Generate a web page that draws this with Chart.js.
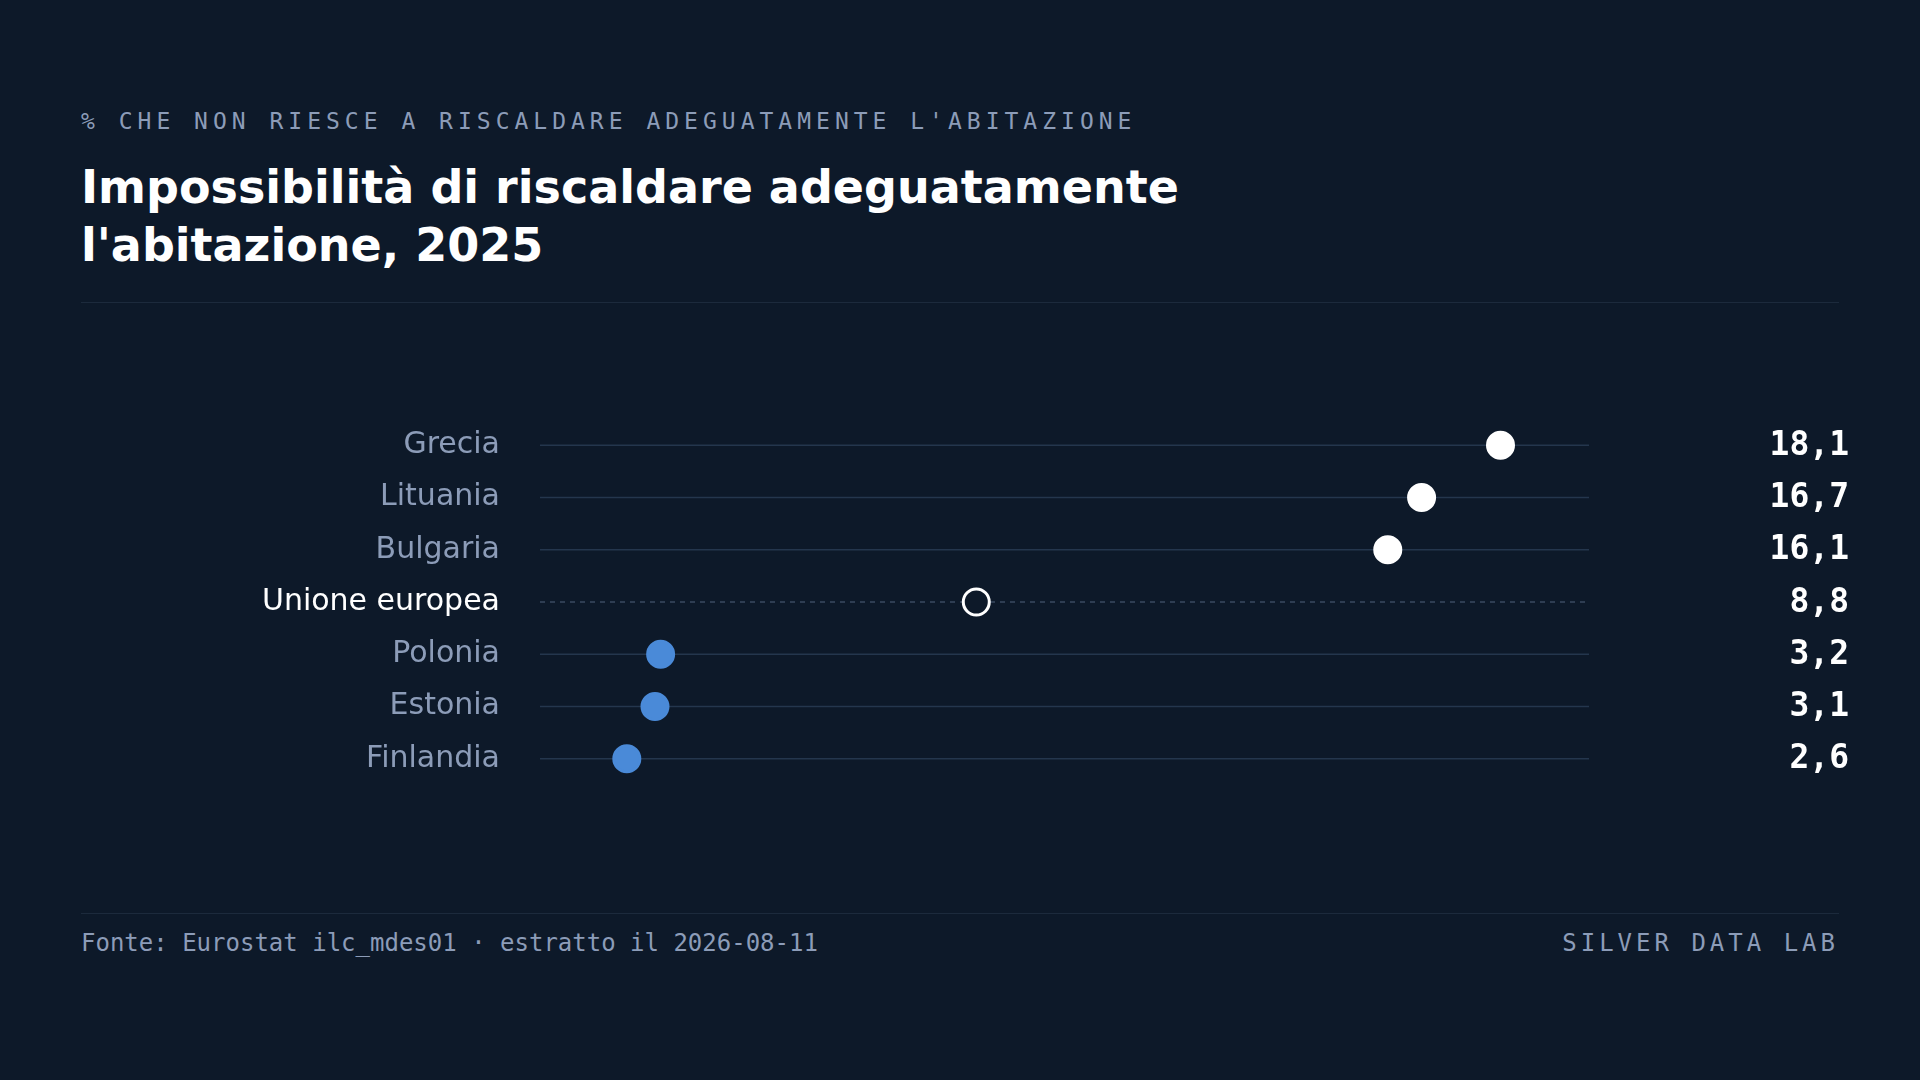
<!DOCTYPE html>
<html><head><meta charset="utf-8">
<script src="https://cdn.jsdelivr.net/npm/chart.js@4"></script>
<style>
body{margin:0;width:1920px;height:1080px;background:#0d1929;overflow:hidden;position:relative;font-family:"DejaVu Sans",sans-serif}
.kick{position:absolute;left:81px;top:108px;font:23px "DejaVu Sans Mono",monospace;letter-spacing:5px;color:#8c9cb8}
h1{position:absolute;left:81px;top:158px;margin:0;font-size:46px;line-height:58px;color:#fff;font-weight:bold}
.rule{position:absolute;left:81px;width:1758px;height:1px;background:#1c2a3c}
.foot{position:absolute;top:929px;font:24px "DejaVu Sans Mono",monospace;color:#8c9cb8}
#c{position:absolute;left:0;top:369px}
</style></head><body>
<div class="kick">% CHE NON RIESCE A RISCALDARE ADEGUATAMENTE L'ABITAZIONE</div>
<h1>Impossibilità di riscaldare adeguatamente<br>l'abitazione, 2025</h1>
<div class="rule" style="top:302px"></div>
<canvas id="c" width="1920" height="466"></canvas>
<div class="rule" style="top:913px"></div>
<div class="foot" style="left:81px">Fonte: Eurostat ilc_mdes01 · estratto il 2026-08-11</div>
<div class="foot" style="right:81px;letter-spacing:4px">SILVER DATA LAB</div>
<script>
var paesi = ['Grecia','Lituania','Bulgaria','Unione europea','Polonia','Estonia','Finlandia']
var valori = [18.1,16.7,16.1,8.8,3.2,3.1,2.6]
var riferimento = 'Unione europea'
var mediaUE = 8.8

var righe = {
  id:'righe',
  beforeDatasetsDraw(chart){
    var ctx = chart.ctx, a = chart.chartArea, y = chart.scales.y
    paesi.forEach(function(p,i){
      var py = y.getPixelForValue(i)
      ctx.save()
      ctx.strokeStyle = p==riferimento ? '#3a4a60' : '#24364d'
      ctx.lineWidth = 1.5
      if(p==riferimento) ctx.setLineDash([5,5])
      ctx.beginPath(); ctx.moveTo(a.left,py); ctx.lineTo(a.right,py); ctx.stroke()
      ctx.restore()
    })
  },
  afterDatasetsDraw(chart){
    var ctx = chart.ctx, y = chart.scales.y
    ctx.save()
    ctx.font = 'bold 33px "DejaVu Sans Mono", monospace'
    ctx.fillStyle = '#fff'; ctx.textAlign = 'right'; ctx.textBaseline = 'middle'
    valori.forEach(function(v,i){
      ctx.fillText(v.toFixed(1).replace('.',','), 1849, y.getPixelForValue(i)+1)
    })
    ctx.restore()
  }
}

new Chart(document.getElementById('c'), {
  type:'line',
  data:{ labels:paesi, datasets:[{
    data:valori, showLine:false,
    pointRadius:13, pointHoverRadius:13, pointBorderWidth:3,
    pointBackgroundColor:valori.map(function(v,i){ return paesi[i]==riferimento ? '#0d1929' : (v>mediaUE ? '#ffffff' : '#4a8ad8') }),
    pointBorderColor:valori.map(function(v,i){ return paesi[i]==riferimento ? '#ffffff' : (v>mediaUE ? '#ffffff' : '#4a8ad8') })
  }]},
  options:{
    indexAxis:'y', responsive:false, animation:false, devicePixelRatio:1,
    layout:{padding:{right:331,top:0,bottom:0,left:0}},
    plugins:{legend:{display:false}, tooltip:{enabled:false}},
    scales:{
      x:{type:'linear', min:1.06, max:19.67, display:false},
      y:{type:'category', offset:true, grid:{display:false}, border:{display:false},
        afterFit:function(s){ s.width = 540 },
        ticks:{padding:32, font:{size:30, family:'"DejaVu Sans", sans-serif'},
          color:function(c){ return paesi[c.index]==riferimento ? '#ffffff' : '#8c9cb8' }}}
    }
  },
  plugins:[righe]
})
</script>
</body></html>
